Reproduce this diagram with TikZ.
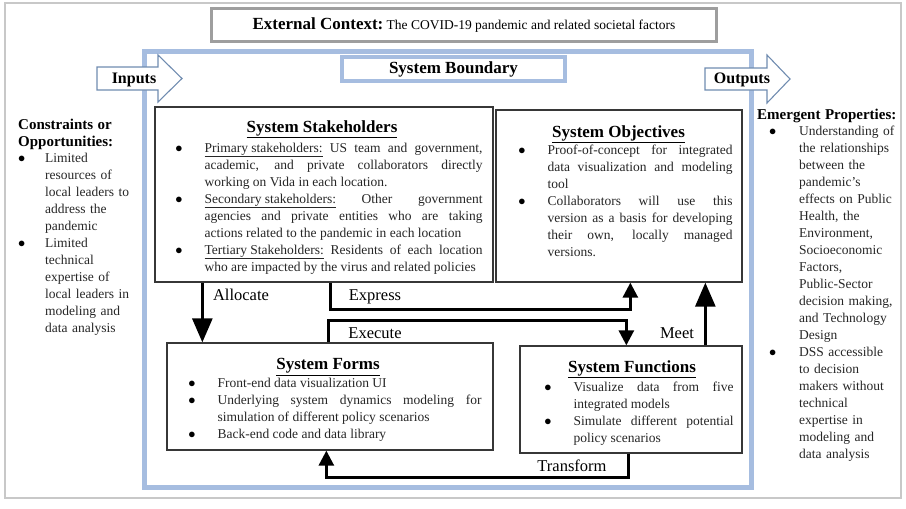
\documentclass[tikz,border=0pt]{standalone}
\usepackage{fontspec}
\setmainfont{Liberation Serif}
\usepackage{enumitem}
\usetikzlibrary{arrows.meta,positioning}
\setlength{\parindent}{0pt}

\definecolor{sysblue}{RGB}{166,189,224}
\definecolor{ioblue}{RGB}{112,140,176}
\definecolor{framegray}{RGB}{200,200,200}
\definecolor{ctxgray}{RGB}{158,158,158}
\definecolor{boxline}{RGB}{55,55,55}

\newcommand{\boxtitle}[2][0pt]{{\centering\fontsize{17}{20}\selectfont\bfseries\color{black}\underline{#2}\par}\vspace{#1}}
\newcommand{\sidetitle}{\color{black}\fontsize{15}{17}\selectfont\bfseries}
\newlist{sysitems}{itemize}{1}
\setlist[sysitems]{label={\color{black}$\bullet$}, leftmargin=43pt, labelsep=22pt, itemsep=0pt, parsep=0pt, topsep=0pt, partopsep=0pt}

\begin{document}
\begin{tikzpicture}[x=1pt, y=-1pt,
  sysbox/.style={draw=boxline, line width=1.3pt, fill=white, inner sep=0pt},
  boxtext/.style={inner sep=0pt, align=justify, font=\fontsize{13.5}{17}\selectfont, text=black!85},
  sidetext/.style={anchor=north west, inner sep=0pt, align=left, font=\fontsize{13.5}{17}\selectfont, text=black!85},
  io/.style={draw=ioblue, line width=1.1pt, fill=white, line join=miter},
  flow/.style={draw=black, line width=2.8pt},
  bigtip/.style={-{Triangle[length=24pt,width=20pt]}},
  smalltip/.style={-{Triangle[length=15pt,width=15pt]}},
  flowlabel/.style={font=\fontsize{16.5}{18}\selectfont, inner sep=0pt}]
  \useasboundingbox (0,0) rectangle (906,509);

  % frame, context and system boundary
  \draw[framegray, line width=2pt] (5,3) rectangle (901,498);
  \node[draw=ctxgray, line width=3pt, minimum width=505pt, minimum height=33pt, inner sep=0pt] (ctx) at (464,25)
    {{\fontsize{17}{20}\selectfont\bfseries External Context:} {\fontsize{13.5}{16}\selectfont The COVID-19 pandemic and related societal factors}};
  \draw[sysblue, line width=5pt] (144,51) rectangle (751,487);
  \node[draw=sysblue, line width=4pt, fill=white, minimum width=223pt, minimum height=24pt, inner sep=0pt] (bound) at (453.5,69)
    {\fontsize{17}{20}\selectfont\bfseries System Boundary};

  % inputs / outputs
  \draw[io] (97,67) -- (158,67) -- (158,55) -- (182,78.5) -- (158,102) -- (158,90) -- (97,90) -- cycle;
  \node[font=\fontsize{16}{18}\selectfont\bfseries, inner sep=0pt] (inputs) at (134,80) {Inputs};
  \draw[io] (705,68) -- (767,68) -- (767,55) -- (790,79) -- (767,103) -- (767,90) -- (705,90) -- cycle;
  \node[font=\fontsize{16}{18}\selectfont\bfseries, inner sep=0pt] (outputs) at (742,80) {Outputs};

  % side columns
  \node[sidetext, text width=117pt] (constr) at (18,119) {%
    {\sidetitle Constraints or\\Opportunities:\par}
    \vspace{-1pt}
    \begin{sysitems}[leftmargin=27pt,labelsep=20pt]
      \item Limited\\resources of\\local leaders to\\address the\\pandemic
      \item Limited\\technical\\expertise of\\local leaders in\\modeling and\\data analysis
    \end{sysitems}};
  \node[sidetext, text width=145pt] (emerg) at (757,108.5) {%
    {\sidetitle Emergent Properties:\par}
    \vspace{-1pt}
    \begin{sysitems}[leftmargin=42pt,labelsep=23pt]
      \item Understanding of\\the relationships\\between the\\pandemic’s\\effects on Public\\Health, the\\Environment,\\Socioeconomic\\Factors,\\Public-Sector\\decision making,\\and Technology\\Design
      \item DSS accessible\\to decision\\makers without\\technical\\expertise in\\modeling and\\data analysis
    \end{sysitems}};

  % the four system boxes
  \node[sysbox, minimum width=338pt, minimum height=175pt] (stake) at (324,194.5) {};
  \node[sysbox, minimum width=246pt, minimum height=172pt] (obj) at (619,196) {};
  \node[sysbox, minimum width=326pt, minimum height=107pt] (forms) at (330,396.5) {};
  \node[sysbox, minimum width=222pt, minimum height=107pt] (func) at (631,399.5) {};

  \node[boxtext, text width=321pt, below right=14pt and 7pt of stake.north west] (stakeT) {%
    \boxtitle[3pt]{System Stakeholders}
    \begin{sysitems}
      \item \underline{Primary stakeholders:} US team and government,\linebreak academic, and private collaborators directly\linebreak working on Vida in each location.
      \item \underline{Secondary stakeholders:} Other government\linebreak agencies and private entities who are taking\linebreak actions related to the pandemic in each location
      \item \underline{Tertiary Stakeholders:} Residents of each location\linebreak who are impacted by the virus and related policies
    \end{sysitems}};
  \node[boxtext, text width=228pt, below right=16pt and 9pt of obj.north west] (objT) {%
    \boxtitle{System Objectives}
    \begin{sysitems}
      \item Proof-of-concept for integrated\linebreak data visualization and modeling\linebreak tool
      \item Collaborators will use this\linebreak version as a basis for developing\linebreak their own, locally managed\linebreak versions.
    \end{sysitems}};
  \node[boxtext, text width=307pt, below right=16pt and 8pt of forms.north west] (formsT) {%
    \boxtitle[1pt]{System Forms}
    \begin{sysitems}
      \item Front-end data visualization UI
      \item Underlying system dynamics modeling for\linebreak simulation of different policy scenarios
      \item Back-end code and data library
    \end{sysitems}};
  \node[boxtext, text width=203pt, below right=15pt and 11pt of func.north west] (funcT) {%
    \boxtitle[2pt]{System Functions}
    \begin{sysitems}
      \item Visualize data from five\linebreak integrated models
      \item Simulate different potential\linebreak policy scenarios
    \end{sysitems}};

  % connectors
  \coordinate (allocA) at ([xshift=48pt]stake.south west);
  \coordinate (meetA) at ([xshift=186pt]func.north west);
  \draw[flow, bigtip] (allocA) -- (allocA |- forms.north);
  \draw[flow, smalltip] ([xshift=176pt]stake.south west) -- ++(0,27) -| ([xshift=135pt]obj.south west);
  \draw[flow, smalltip] ([xshift=162pt]forms.north west) -- ++(0,-22) -| ([xshift=107pt]func.north west);
  \draw[flow, bigtip] (meetA) -- (meetA |- obj.south);
  \draw[flow, smalltip] ([xshift=109pt]func.south west) -- ++(0,24) -| ([xshift=160pt]forms.south west);

  \node[flowlabel] (allocL) at (241,295) {Allocate};
  \node[flowlabel] (expL) at (375,297) {Express};
  \node[flowlabel] (exeL) at (375,333) {Execute};
  \node[flowlabel] (meetL) at (677,333) {Meet};
  \node[flowlabel] (transL) at (572,466) {Transform};
\end{tikzpicture}
\end{document}
